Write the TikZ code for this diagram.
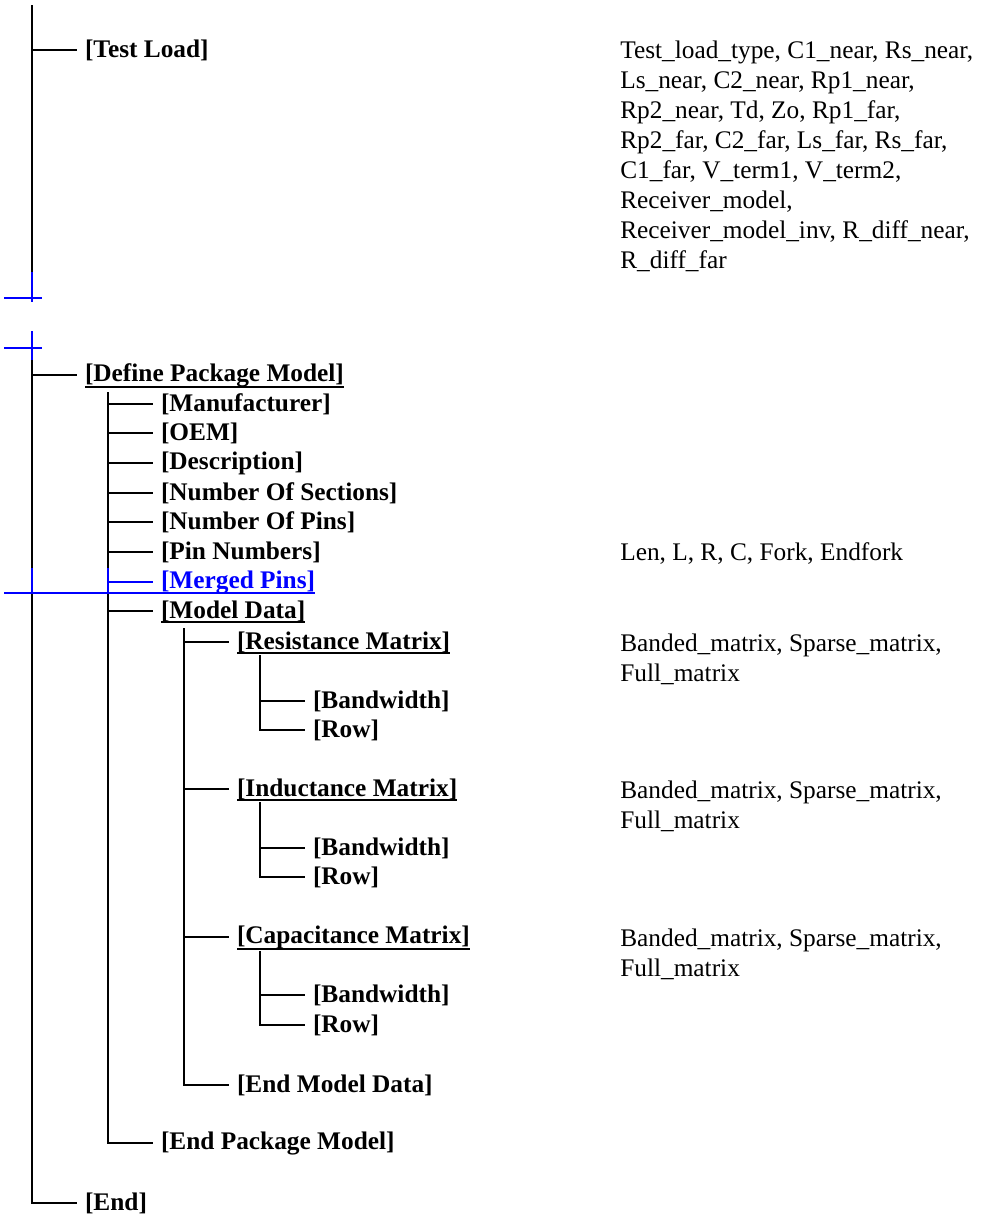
\documentclass[tikz,border=0pt]{standalone}
\usepackage{fontspec}
\setmainfont{Liberation Serif}
\begin{document}
\begin{tikzpicture}[x=0.75pt,y=-0.75pt,
  tree/.style={line width=1pt,black},
  chg/.style={line width=1pt,blue},
  uline/.style={line width=1.5pt},
  lbl/.style={anchor=west,inner sep=0pt,outer xsep=6pt,font=\fontsize{19}{22.5}\selectfont\bfseries},
  desc/.style={anchor=base west,inner sep=0pt,align=left,font=\fontsize{19}{22.5}\selectfont}]
\useasboundingbox (0,0) rectangle (985,1217);
% trunk coordinates
\coordinate (t0) at (32,5);
\coordinate (b1) at (32,272);
\coordinate (b2) at (32,302);
\coordinate (b3) at (32,331);
\coordinate (b4) at (32,360);
\coordinate (h1a) at (4,298);
\coordinate (h1b) at (42,298);
\coordinate (h2a) at (4,348);
\coordinate (h2b) at (42,348);
\coordinate (l2) at (108,392);
\coordinate (l3) at (184,628);
% labels
\node[lbl] (tl) at (77,50) {[Test Load]};
\node[lbl] (dpm) at (77,375) {[Define Package Model]};
\node[lbl] (man) at (153,404) {[Manufacturer]};
\node[lbl] (oem) at (153,433) {[OEM]};
\node[lbl] (des) at (153,463) {[Description]};
\node[lbl] (nos) at (153,493) {[Number Of Sections]};
\node[lbl] (nop) at (153,522) {[Number Of Pins]};
\node[lbl] (pn) at (153,552) {[Pin Numbers]};
\node[lbl,text=blue] (mp) at (153,582) {[Merged Pins]};
\node[lbl] (md) at (153,611) {[Model Data]};
\node[lbl] (rm) at (229,642) {[Resistance Matrix]};
\node[lbl] (rb) at (305,701) {[Bandwidth]};
\node[lbl] (rr) at (305,730) {[Row]};
\node[lbl] (im) at (229,789) {[Inductance Matrix]};
\node[lbl] (ib) at (305,848) {[Bandwidth]};
\node[lbl] (ir) at (305,877) {[Row]};
\node[lbl] (cm) at (229,937) {[Capacitance Matrix]};
\node[lbl] (cb) at (305,995) {[Bandwidth]};
\node[lbl] (cr) at (305,1025) {[Row]};
\node[lbl] (emd) at (229,1085) {[End Model Data]};
\node[lbl] (epm) at (153,1143) {[End Package Model]};
\node[lbl] (en) at (77,1203) {[End]};
% descriptions (anchor = baseline of last line)
\node[desc] (dtl) at (620,268) {Test\_load\_type, C1\_near, Rs\_near,\\Ls\_near, C2\_near, Rp1\_near,\\Rp2\_near, Td, Zo, Rp1\_far,\\Rp2\_far, C2\_far, Ls\_far, Rs\_far,\\C1\_far, V\_term1, V\_term2,\\Receiver\_model,\\Receiver\_model\_inv, R\_diff\_near,\\R\_diff\_far};
\node[desc] (dpn) at (620,560) {Len, L, R, C, Fork, Endfork};
\node[desc] (drm) at (620,681) {Banded\_matrix, Sparse\_matrix,\\Full\_matrix};
\node[desc] (dim) at (620,828) {Banded\_matrix, Sparse\_matrix,\\Full\_matrix};
\node[desc] (dcm) at (620,976) {Banded\_matrix, Sparse\_matrix,\\Full\_matrix};
% underlines
\foreach \n in {dpm,md,rm,im,cm}
  \draw[uline] ([xshift=6pt]\n.south west) -- ([xshift=-6pt]\n.south east);
% trunk
\draw[tree] (t0) -- (b1);
\draw[chg] (b1) -- (b2);
\draw[chg] (b3) -- (b4);
\draw[tree] (b4) |- (en.west);
\draw[tree] (tl.west -| t0) -- (tl.west);
\draw[tree] (dpm.west -| t0) -- (dpm.west);
\draw[chg] (h1a) -- (h1b);
\draw[chg] (h2a) -- (h2b);
% level 2
\draw[tree] (l2) |- (epm.west);
\foreach \n in {man,oem,des,nos,nop,pn,md}
  \draw[tree] (\n.west -| l2) -- (\n.west);
\draw[chg] (mp.west -| l2) -- (mp.west);
% change bar across (also underlines Merged Pins)
\coordinate (cb1) at (4,593);
\coordinate (cv1) at (32,568);
\coordinate (cv2) at (108,568);
\coordinate (mpe) at ([xshift=-6pt]mp.east);
\draw[chg] (cv1) -- (cv1 |- cb1);
\draw[chg] (cv2) -- (cv2 |- cb1);
\draw[chg,line width=1.3pt] (cb1) -- (cb1 -| mpe);
% level 3
\draw[tree] (l3) |- (emd.west);
\foreach \n in {rm,im,cm}
  \draw[tree] (\n.west -| l3) -- (\n.west);
% level 4
\coordinate (r4) at (260,655);
\coordinate (i4) at (260,802);
\coordinate (c4) at (260,951);
\draw[tree] (r4) |- (rr.west);
\draw[tree] (rb.west -| r4) -- (rb.west);
\draw[tree] (i4) |- (ir.west);
\draw[tree] (ib.west -| i4) -- (ib.west);
\draw[tree] (c4) |- (cr.west);
\draw[tree] (cb.west -| c4) -- (cb.west);
\end{tikzpicture}
\end{document}
